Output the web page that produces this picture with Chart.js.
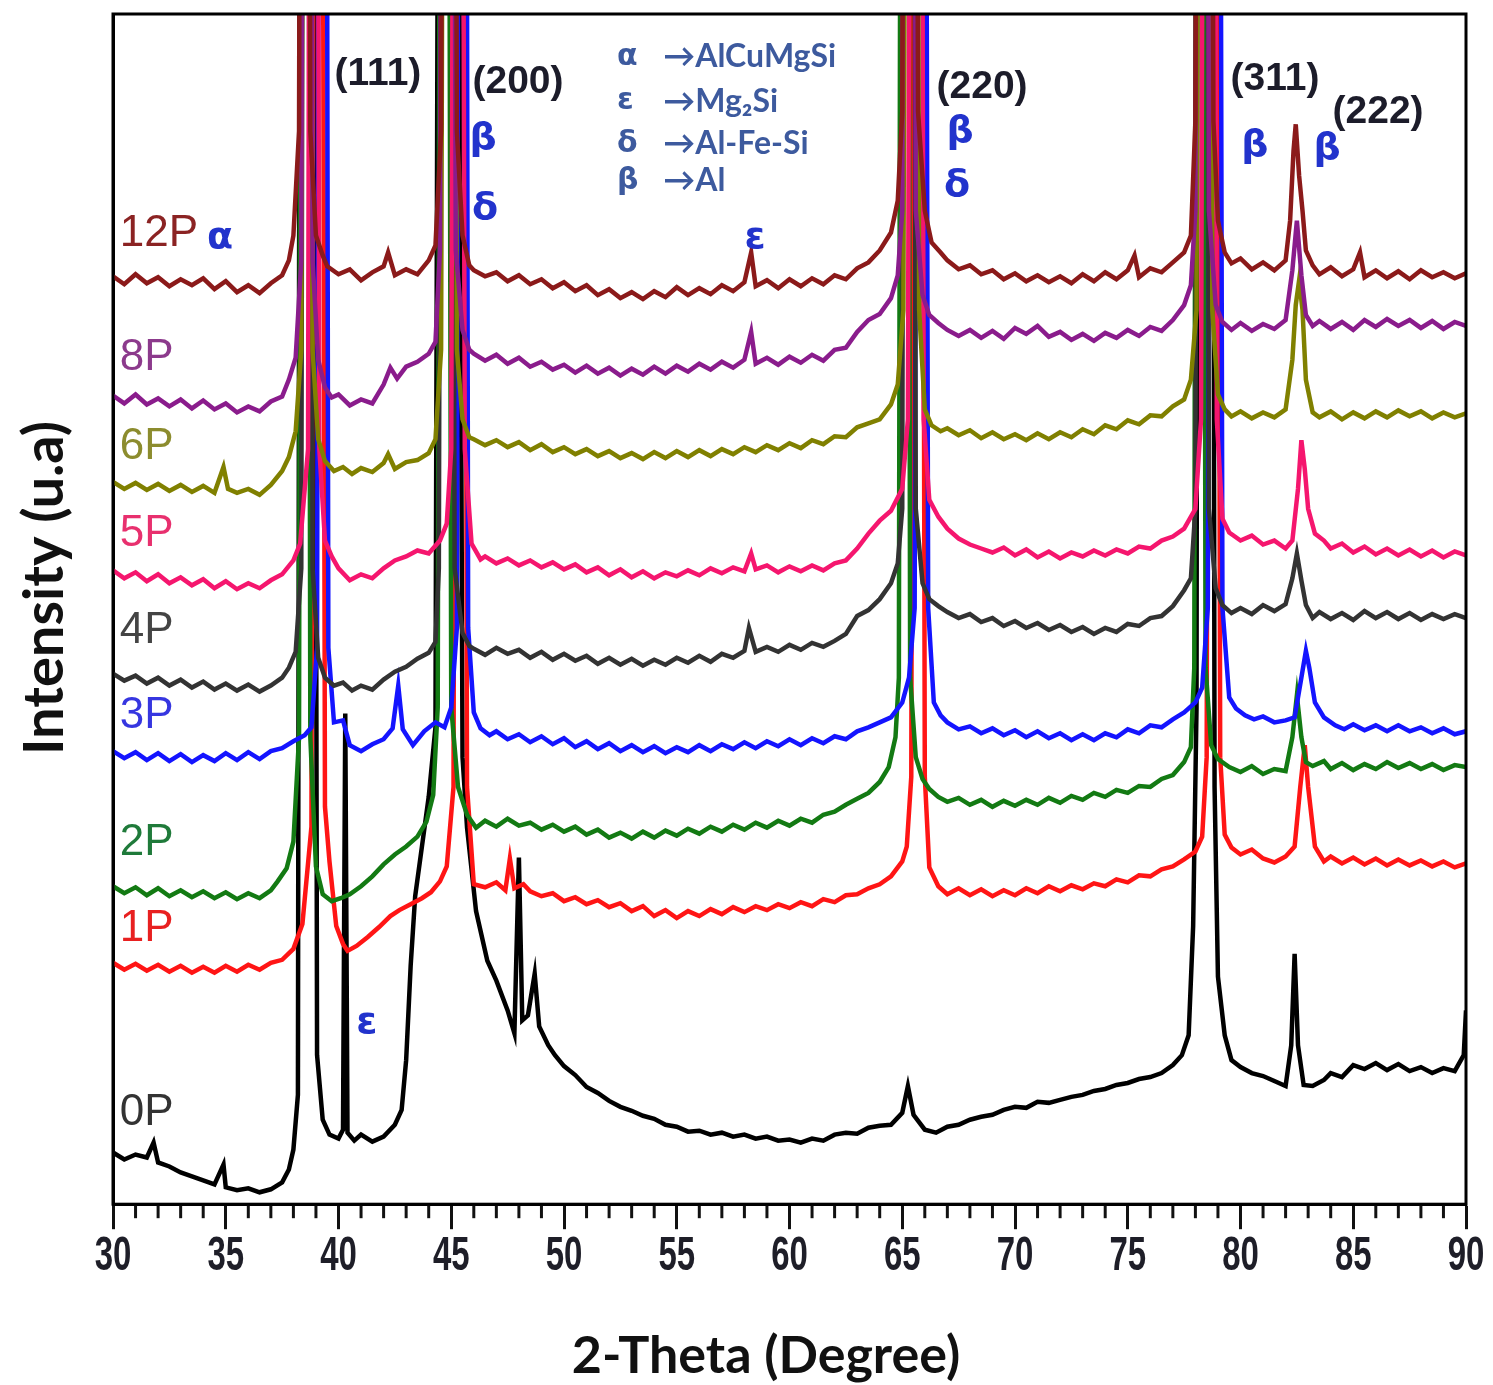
<!DOCTYPE html>
<html lang="en">
  <head>
    <meta charset="UTF-8" />
    <title>XRD patterns</title>
    <script src="https://cdn.jsdelivr.net/npm/chart.js@4.4.1/dist/chart.umd.min.js"></script>
    <style>
      html, body { margin: 0; padding: 0; background: #fff; }
      #wrap { width: 1493px; height: 1385px; }
    </style>
  </head>
  <body>
    <div id="wrap"><canvas id="xrd" width="1493" height="1385"></canvas></div>

    <script>
      // 2-theta (deg), intensity (arbitrary, already offset per pass count)
      const s12P = [[30,934],[30.5,926],[31,936],[31.5,927],[32,933],[32.5,924],[33,931],[33.5,925],[34,932],[34.5,921],[35,929],[35.5,918],[36,925],[36.5,917],[37,927],[37.5,935],[37.8,950],[38,975],
        [38.25,1080],[38.4,2500],[38.6,2500],[38.75,1080],[39,975],[39.3,955],[39.5,944],[40,936],[40.5,941],[41,930],[41.5,938],[42,944],[42.2,958],[42.5,935],[43,941],[43.5,936],[44,950],[44.3,965],
        [44.55,1080],[44.75,2500],[45.05,2500],[45.25,1080],[45.5,975],[45.8,945],[46,940],[46.5,934],[47,938],[47.5,929],[48,935],[48.5,926],[49,931],[49.5,922],[50,928],[50.5,919],[51,925],[51.5,915],
        [52,921],[52.5,912],[53,918],[53.5,911],[54,919],[54.5,913],[55,923],[55.5,915],[56,922],[56.5,916],[57,925],[57.5,919],[58,928],[58.3,958],[58.5,924],[59,930],[59.5,922],[60,931],[60.5,924],
        [61,932],[61.5,926],[62,935],[62.5,931],[63,942],[63.5,948],[64,960],[64.5,978],[64.8,1010],[65,1100],[65.2,2500],[65.5,2500],[65.7,1100],[66,1000],[66.3,968],[66.7,958],[67,950],[67.5,941],
        [68,945],[68.5,936],[69,940],[69.5,931],[70,937],[70.5,929],[71,935],[71.5,928],[72,934],[72.5,927],[73,936],[73.5,929],[74,938],[74.5,931],[75,940],[75.3,955],[75.5,933],[76,942],[76.5,938],
        [77,948],[77.5,958],[77.8,975],[78,1090],[78.2,2500],[78.6,2500],[78.8,1090],[79,990],[79.3,958],[79.6,947],[80,952],[80.5,941],[81,948],[81.5,940],[82,950],[82.2,990],[82.35,1060],[82.45,1087],
        [82.6,1035],[82.75,1000],[82.9,960],[83.2,945],[83.5,936],[84,943],[84.5,934],[85,941],[85.3,958],[85.5,933],[86,940],[86.5,932],[87,939],[87.5,931],[88,940],[88.5,933],[89,938],[89.5,932],[90,937]];

      const s8P = [[30,814],[30.5,806],[31,815],[31.5,805],[32,811],[32.5,803],[33,810],[33.5,801],[34,809],[34.5,800],[35,806],[35.5,797],[36,803],[36.5,798],[37,808],[37.5,813],[37.8,830],[38.1,852],
        [38.35,950],[38.5,2500],[38.7,2500],[38.85,950],[39.1,850],[39.4,822],[39.7,812],[40,815],[40.5,804],[41,810],[41.5,806],[42,825],[42.3,842],[42.6,831],[43,843],[43.5,848],[44,856],[44.3,868],
        [44.5,960],[44.7,2500],[45,2500],[45.2,960],[45.5,880],[45.8,860],[46,856],[46.5,849],[47,855],[47.5,846],[48,852],[48.5,843],[49,848],[49.5,840],[50,845],[50.5,837],[51,844],[51.5,836],
        [52,842],[52.5,834],[53,841],[53.5,835],[54,843],[54.5,836],[55,844],[55.5,838],[56,846],[56.5,840],[57,848],[57.5,842],[58,850],[58.3,878],[58.5,846],[59,852],[59.5,845],[60,853],[60.5,847],
        [61,855],[61.5,849],[62,860],[62.5,862],[63,878],[63.5,890],[64,896],[64.5,912],[64.8,935],[65,1000],[65.15,2500],[65.45,2500],[65.6,1000],[65.9,915],[66.2,895],[66.6,887],[67,880],[67.5,874],
        [68,880],[68.5,872],[69,879],[69.5,871],[70,882],[70.5,876],[71,884],[71.5,873],[72,878],[72.5,870],[73,876],[73.5,869],[74,877],[74.5,872],[75,880],[75.5,874],[76,883],[76.5,879],[77,890],
        [77.5,905],[77.8,925],[78,1000],[78.15,2500],[78.45,2500],[78.6,1000],[78.9,905],[79.2,888],[79.6,880],[80,887],[80.5,879],[81,886],[81.5,881],[82,890],[82.3,940],[82.5,990],[82.7,935],
        [82.9,895],[83.2,884],[83.5,889],[84,881],[84.5,888],[85,880],[85.5,890],[86,883],[86.5,891],[87,884],[87.5,890],[88,882],[88.5,889],[89,881],[89.5,888],[90,884]];

      const s6P = [[30,727],[30.5,720],[31,726],[31.5,719],[32,725],[32.5,718],[33,724],[33.5,717],[34,723],[34.5,716],[34.9,742],[35.1,720],[35.5,716],[36,720],[36.5,714],[37,724],[37.5,738],[37.8,752],[38.1,778],
        [38.35,860],[38.5,2500],[38.7,2500],[38.85,860],[39.1,770],[39.4,748],[39.8,738],[40.2,742],[40.6,735],[41,741],[41.5,737],[42,746],[42.2,755],[42.5,740],[43,747],[43.5,749],[44,756],[44.3,770],
        [44.55,860],[44.75,2500],[45.05,2500],[45.25,860],[45.5,790],[45.8,772],[46,770],[46.5,764],[47,769],[47.5,762],[48,767],[48.5,759],[49,765],[49.5,757],[50,762],[50.5,755],[51,760],[51.5,753],
        [52,758],[52.5,751],[53,756],[53.5,750],[54,757],[54.5,751],[55,758],[55.5,752],[56,759],[56.5,753],[57,760],[57.5,755],[58,762],[58.5,757],[59,764],[59.5,759],[60,766],[60.5,761],[61,769],
        [61.5,765],[62,773],[62.5,772],[63,782],[63.5,786],[64,790],[64.5,805],[64.8,825],[65.05,900],[65.25,2500],[65.55,2500],[65.75,900],[66,800],[66.3,784],[66.7,778],[67,781],[67.5,774],[68,779],
        [68.5,771],[69,777],[69.5,770],[70,775],[70.5,769],[71,776],[71.5,770],[72,777],[72.5,772],[73,780],[73.5,775],[74,784],[74.5,780],[75,789],[75.5,785],[76,794],[76.5,793],[77,803],[77.5,810],
        [77.8,830],[78.05,900],[78.25,2500],[78.55,2500],[78.75,900],[79,815],[79.3,800],[79.6,793],[80,798],[80.5,791],[81,797],[81.5,792],[82,800],[82.3,850],[82.45,905],[82.6,930],[82.75,900],
        [82.9,830],[83.2,797],[83.5,792],[84,798],[84.5,790],[85,797],[85.5,791],[86,798],[86.5,792],[87,799],[87.5,793],[88,798],[88.5,791],[89,797],[89.5,792],[90,796]];

      const s5P = [[30,638],[30.5,630],[31,636],[31.5,627],[32,634],[32.5,625],[33,631],[33.5,623],[34,629],[34.5,620],[35,627],[35.5,619],[36,625],[36.5,620],[37,628],[37.5,634],[38,648],[38.3,665],
        [38.65,760],[38.8,2500],[39,2500],[39.15,760],[39.4,668],[39.7,652],[40,640],[40.5,628],[41,634],[41.5,630],[42,640],[42.5,648],[43,652],[43.5,658],[44,655],[44.5,668],[44.8,685],
        [45,760],[45.2,2500],[45.4,2500],[45.6,760],[45.9,665],[46.3,649],[46.5,652],[47,645],[47.5,650],[48,643],[48.5,648],[49,641],[49.5,646],[50,639],[50.5,644],[51,636],[51.5,641],[52,633],
        [52.5,639],[53,631],[53.5,637],[54,630],[54.5,636],[55,632],[55.5,638],[56,633],[56.5,640],[57,635],[57.5,641],[58,637],[58.3,655],[58.5,639],[59,643],[59.5,636],[60,642],[60.5,637],[61,643],
        [61.5,638],[62,645],[62.5,648],[63,660],[63.5,675],[64,688],[64.5,698],[65,720],[65.25,790],[65.45,2500],[65.75,2500],[65.95,790],[66.2,709],[66.6,692],[67,680],[67.5,670],[68,664],[68.5,660],
        [69,656],[69.5,661],[70,653],[70.5,659],[71,651],[71.5,657],[72,650],[72.5,656],[73,652],[73.5,658],[74,653],[74.5,659],[75,655],[75.5,662],[76,660],[76.5,668],[77,672],[77.5,680],[78,700],
        [78.25,790],[78.45,2500],[78.75,2500],[78.95,790],[79.2,690],[79.5,676],[80,668],[80.5,673],[81,664],[81.5,668],[82,660],[82.3,668],[82.55,720],[82.7,769],[82.85,740],[83,700],[83.3,675],
        [83.7,668],[84,660],[84.5,665],[85,656],[85.5,662],[86,654],[86.5,660],[87,653],[87.5,659],[88,652],[88.5,658],[89,651],[89.5,657],[90,653]];

      const s4P = [[30,534],[30.5,527],[31,532],[31.5,524],[32,530],[32.5,522],[33,528],[33.5,520],[34,526],[34.5,518],[35,524],[35.5,517],[36,523],[36.5,516],[37,522],[37.5,530],[37.8,540],[38.1,556],
        [38.35,640],[38.5,2500],[38.7,2500],[38.85,640],[39.1,550],[39.4,530],[39.8,522],[40.2,525],[40.6,517],[41,522],[41.5,518],[42,528],[42.5,536],[43,541],[43.5,549],[44,555],[44.3,566],
        [44.45,640],[44.65,2500],[44.95,2500],[45.15,640],[45.5,575],[45.8,562],[46,559],[46.5,553],[47,560],[47.5,554],[48,558],[48.5,550],[49,556],[49.5,548],[50,554],[50.5,547],[51,552],[51.5,544],
        [52,550],[52.5,543],[53,549],[53.5,542],[54,548],[54.5,543],[55,550],[55.5,545],[56,552],[56.5,546],[57,554],[57.5,550],[58,557],[58.2,580],[58.5,556],[59,561],[59.5,556],[60,563],[60.5,558],
        [61,565],[61.5,561],[62,567],[62.5,574],[63,592],[63.5,598],[64,609],[64.5,625],[64.8,645],[65,700],[65.15,2500],[65.45,2500],[65.6,700],[65.9,625],[66.2,609],[66.6,602],[67,596],[67.5,590],
        [68,594],[68.5,586],[69,590],[69.5,582],[70,587],[70.5,580],[71,585],[71.5,578],[72,583],[72.5,576],[73,581],[73.5,574],[74,580],[74.5,576],[75,584],[75.5,582],[76,590],[76.5,592],[77,602],
        [77.5,618],[77.8,630],[78,700],[78.15,2500],[78.45,2500],[78.6,700],[78.9,620],[79.2,603],[79.6,595],[80,600],[80.5,594],[81,603],[81.5,597],[82,604],[82.3,630],[82.5,655],[82.7,628],[82.9,603],
        [83.2,590],[83.5,596],[84,589],[84.5,595],[85,588],[85.5,597],[86,590],[86.5,596],[87,589],[87.5,595],[88,588],[88.5,594],[89,589],[89.5,594],[90,590]];

      const s3P = [[30,456],[30.5,449],[31,455],[31.5,447],[32,454],[32.5,446],[33,453],[33.5,445],[34,452],[34.5,446],[35,454],[35.5,447],[36,455],[36.5,448],[37,456],[37.5,459],[38,466],[38.5,472],[38.8,480],
        [39.05,560],[39.2,2500],[39.4,2500],[39.55,560],[39.8,485],[40.2,487],[40.5,462],[41,456],[41.5,463],[42,468],[42.4,479],[42.65,522],[42.85,478],[43.3,462],[43.8,476],[44.3,485],[44.7,480],[45,500],
        [45.25,580],[45.4,2500],[45.6,2500],[45.75,580],[46,495],[46.3,479],[46.7,472],[47,476],[47.5,468],[48,473],[48.5,465],[49,471],[49.5,463],[50,469],[50.5,460],[51,466],[51.5,458],[52,464],
        [52.5,456],[53,462],[53.5,455],[54,461],[54.5,454],[55,460],[55.5,455],[56,462],[56.5,456],[57,463],[57.5,458],[58,465],[58.5,459],[59,466],[59.5,461],[60,468],[60.5,462],[61,469],[61.5,464],
        [62,471],[62.5,468],[63,476],[63.5,480],[64,485],[64.5,490],[65,505],[65.3,530],[65.55,600],[65.75,2500],[65.95,2500],[66.15,600],[66.4,505],[66.7,492],[67,485],[67.5,478],[68,481],[68.5,474],
        [69,479],[69.5,472],[70,477],[70.5,470],[71,476],[71.5,469],[72,474],[72.5,467],[73,473],[73.5,467],[74,474],[74.5,470],[75,478],[75.5,474],[76,482],[76.5,480],[77,488],[77.5,495],[78,505],
        [78.3,520],[78.55,600],[78.75,2500],[79,2500],[79.2,600],[79.5,510],[79.8,499],[80.2,492],[80.6,488],[81,491],[81.5,485],[82,487],[82.4,490],[82.7,530],[82.9,557],[83.05,540],[83.3,505],
        [83.7,490],[84.2,482],[84.6,478],[85,483],[85.5,477],[86,482],[86.5,476],[87,482],[87.5,476],[88,480],[88.5,474],[89,479],[89.5,473],[90,476]];

      const s2P = [[30,320],[30.5,313],[31,319],[31.5,311],[32,318],[32.5,310],[33,316],[33.5,309],[34,315],[34.5,308],[35,314],[35.5,307],[36,313],[36.5,308],[37,316],[37.3,325],[37.7,338],[38,365],
        [38.25,470],[38.4,2500],[38.6,2500],[38.75,470],[39,340],[39.3,312],[39.7,305],[40.1,308],[40.5,312],[41,320],[41.5,330],[42,342],[42.5,352],[43,360],[43.5,370],[43.9,385],[44.2,412],
        [44.4,500],[44.6,2500],[44.8,2500],[45,500],[45.3,420],[45.7,392],[46.1,379],[46.5,386],[47,380],[47.5,388],[48,381],[48.5,384],[49,377],[49.5,382],[50,375],[50.5,380],[51,372],[51.5,377],
        [52,369],[52.5,374],[53,368],[53.5,375],[54,369],[54.5,376],[55,371],[55.5,378],[56,373],[56.5,380],[57,375],[57.5,382],[58,377],[58.5,384],[59,379],[59.5,386],[60,381],[60.5,388],[61,384],
        [61.5,392],[62,395],[62.5,402],[63,408],[63.5,414],[64,425],[64.4,440],[64.7,470],[64.85,530],[65,2500],[65.2,2500],[65.35,530],[65.6,450],[65.9,428],[66.2,418],[66.6,410],[67,405],[67.5,409],
        [68,402],[68.5,407],[69,400],[69.5,406],[70,401],[70.5,407],[71,402],[71.5,409],[72,404],[72.5,411],[73,407],[73.5,414],[74,410],[74.5,417],[75,414],[75.5,421],[76,420],[76.5,428],[77,432],
        [77.5,445],[77.8,460],[77.95,540],[78.1,2500],[78.3,2500],[78.45,540],[78.7,462],[79,448],[79.5,440],[80,435],[80.5,441],[81,433],[81.5,438],[82,436],[82.3,470],[82.5,512],[82.7,470],
        [82.9,445],[83.2,441],[83.7,446],[84,438],[84.5,444],[85,437],[85.5,443],[86,438],[86.5,445],[87,439],[87.5,444],[88,438],[88.5,443],[89,437],[89.5,442],[90,440]];

      const s1P = [[30,243],[30.5,236],[31,242],[31.5,235],[32,241],[32.5,234],[33,240],[33.5,233],[34,239],[34.5,233],[35,240],[35.5,234],[36,241],[36.5,236],[37,243],[37.5,246],[38,257],[38.4,282],
        [38.8,380],[39,2500],[39.2,2500],[39.4,400],[39.6,345],[39.9,280],[40.2,262],[40.4,255],[40.8,260],[41.3,269],[41.8,279],[42.3,290],[42.7,296],[43.2,302],[43.7,308],[44.1,314],[44.5,325],[44.8,340],
        [45.1,420],[45.3,2500],[45.5,2500],[45.7,420],[46,322],[46.5,319],[47,324],[47.4,316],[47.6,348],[47.8,318],[48.2,322],[48.5,315],[49,310],[49.5,313],[50,305],[50.5,309],[51,302],[51.5,306],
        [52,299],[52.5,303],[53,295],[53.5,300],[54,290],[54.5,296],[55,288],[55.5,295],[56,290],[56.5,297],[57,292],[57.5,299],[58,294],[58.5,300],[59,296],[59.5,302],[60,298],[60.5,304],[61,300],
        [61.5,307],[62,304],[62.5,311],[63,312],[63.5,318],[64,322],[64.5,330],[65,345],[65.2,360],[65.4,430],[65.6,2500],[65.8,2500],[66,430],[66.2,339],[66.6,320],[67,312],[67.5,318],[68,311],
        [68.5,317],[69,310],[69.5,316],[70,311],[70.5,318],[71,313],[71.5,320],[72,315],[72.5,321],[73,317],[73.5,323],[74,320],[74.5,327],[75,324],[75.5,331],[76,330],[76.5,337],[77,340],[77.5,347],
        [78,355],[78.3,370],[78.5,450],[78.7,2500],[78.9,2500],[79.1,450],[79.3,372],[79.6,359],[80,352],[80.5,357],[81,348],[81.5,344],[82,350],[82.4,360],[82.65,420],[82.85,462],[83,420],[83.3,360],
        [83.7,345],[84,350],[84.5,343],[85,349],[85.5,342],[86,348],[86.5,341],[87,347],[87.5,341],[88,346],[88.5,340],[89,345],[89.5,339],[90,343]];

      const s0P = [[30,52],[30.5,45],[31,50],[31.5,47],[31.8,62],[32,42],[32.5,38],[33,32],[33.5,28],[34,24],[34.5,20],[34.9,40],[35,17],[35.5,14],[36,16],[36.5,12],[37,15],[37.5,22],[37.8,35],[38,55],
        [38.2,110],[38.35,2500],[38.85,2500],[39.05,150],[39.3,85],[39.6,70],[40,66],[40.2,75],[40.3,494],[40.4,72],[40.7,64],[41,70],[41.5,63],[42,68],[42.5,80],[42.8,95],[43,145],[43.2,240],
        [43.4,310],[43.7,360],[44,410],[44.3,480],[44.55,2500],[45.15,2500],[45.5,450],[45.7,379],[46.1,295],[46.6,245],[47,225],[47.5,195],[47.8,172],[48,349],[48.15,185],[48.4,190],[48.7,232],
        [48.9,179],[49.3,160],[49.6,150],[50,139],[50.5,130],[51,118],[51.5,112],[52,104],[52.5,98],[53,94],[53.5,89],[54,86],[54.5,80],[55,78],[55.5,73],[56,74],[56.5,70],[57,72],[57.5,68],[58,70],
        [58.5,66],[59,68],[59.5,64],[60,65],[60.5,62],[61,66],[61.5,64],[62,70],[62.5,72],[63,71],[63.5,77],[64,79],[64.5,80],[65,92],[65.25,119],[65.5,90],[66,75],[66.5,72],[67,78],[67.5,80],
        [68,85],[68.5,88],[69,90],[69.5,95],[70,98],[70.5,97],[71,103],[71.5,102],[72,105],[72.5,108],[73,110],[73.5,114],[74,116],[74.5,120],[75,122],[75.5,126],[76,128],[76.5,132],[77,140],
        [77.4,150],[77.7,170],[77.9,280],[78.05,500],[78.15,2500],[78.7,2500],[78.85,420],[79,229],[79.3,170],[79.6,145],[80,138],[80.5,132],[81,129],[81.5,124],[82,119],[82.25,160],[82.4,252],
        [82.55,160],[82.8,120],[83.2,119],[83.7,125],[84,132],[84.5,128],[85,140],[85.5,136],[86,142],[86.5,135],[87,141],[87.5,134],[88,138],[88.5,132],[89,137],[89.5,134],[89.9,150],[90,195]];

      const seriesNames = ["12P", "8P", "6P", "5P", "4P", "3P", "2P", "1P", "0P"];
      const seriesData = [s12P, s8P, s6P, s5P, s4P, s3P, s2P, s1P, s0P];
      const lineColors = ["#8b1a1a", "#8a1c8c", "#808000", "#f5166e", "#333333", "#1414ff", "#137a13", "#ff1515", "#000000"];
      const labelColors = ["#8b2323", "#8c3a8c", "#8c8c2e", "#e8306e", "#444444", "#3636e0", "#1f7a3a", "#e82020", "#333333"];
      // label anchor for each pattern name: [2-theta, intensity]
      const labelAt = [[30.3, 977], [30.3, 852], [30.3, 762], [30.3, 675], [30.3, 577], [30.3, 492], [30.3, 364], [30.3, 277], [30.3, 92]];

      const planeLabels = ["(111)", "(200)", "(220)", "(311)", "(222)"];
      const planeAt = [[41.75, 1137], [47.96, 1129], [68.54, 1124], [81.53, 1132], [86.1, 1099]];

      const phaseMarks = ["β", "δ", "β", "δ", "β", "β", "α", "ε", "ε"];
      const phaseAt = [[46.41, 1072], [46.5, 1002], [67.56, 1079], [67.43, 1025], [80.64, 1065], [83.84, 1062], [34.75, 972], [58.47, 972], [41.26, 182]];

      const keySymbols = ["α", "ε", "δ", "β"];
      const keyPhases = ["→AlCuMgSi", "→Mg₂Si", "→Al-Fe-Si", "→Al"];
      const keyRows = [1155, 1110, 1067, 1030];

      const xTicks = [30, 35, 40, 45, 50, 55, 60, 65, 70, 75, 80, 85, 90];
      const xTitle = "2-Theta (Degree)";
      const yTitle = "Intensity (u.a)";

      var datasets = seriesData.map(function (s, i) {
        return {
          label: seriesNames[i],
          data: s.map(function (p) { return { x: p[0], y: p[1] }; }),
          borderColor: lineColors[i],
          borderWidth: 4.5,
          pointRadius: 0,
          tension: 0,
          fill: false
        };
      });

      var overlay = {
        id: "overlay",
        afterDraw: function (chart) {
          var ctx = chart.ctx;
          var area = chart.chartArea;
          var x = chart.scales.x;
          var y = chart.scales.y;
          ctx.save();

          // minor ticks every degree
          ctx.strokeStyle = "#111";
          ctx.lineWidth = 3;
          for (var d = 31; d < 90; d++) {
            if (d % 5 === 0) continue;
            var px = x.getPixelForValue(d);
            ctx.beginPath();
            ctx.moveTo(px, area.bottom);
            ctx.lineTo(px, area.bottom + 14);
            ctx.stroke();
          }

          // frame
          ctx.strokeStyle = "#000";
          ctx.lineWidth = 3;
          ctx.strokeRect(area.left, area.top, area.right - area.left, area.bottom - area.top);

          // tick numbers, drawn a bit taller like the original figure
          ctx.textAlign = "center";
          ctx.textBaseline = "middle";
          ctx.fillStyle = "#1e1e28";
          ctx.font = "bold 33px 'Liberation Sans', Arial, sans-serif";
          xTicks.forEach(function (v) {
            ctx.save();
            ctx.translate(x.getPixelForValue(v), area.bottom + 53);
            ctx.scale(1, 1.45);
            ctx.fillText(String(v), 0, 0);
            ctx.restore();
          });

          // axis titles
          ctx.fillStyle = "#111";
          ctx.font = "bold 52px Lato, 'Open Sans', sans-serif";
          ctx.fillText(xTitle, 766, 1356);
          ctx.save();
          ctx.translate(45, 588);
          ctx.rotate(-Math.PI / 2);
          ctx.font = "bold 56px Lato, 'Open Sans', sans-serif";
          ctx.fillText(yTitle, 0, 0);
          ctx.restore();

          // pattern names
          ctx.textAlign = "left";
          ctx.font = "44px 'Liberation Sans', Arial, sans-serif";
          seriesNames.forEach(function (n, i) {
            ctx.fillStyle = labelColors[i];
            ctx.fillText(n, x.getPixelForValue(labelAt[i][0]), y.getPixelForValue(labelAt[i][1]));
          });

          // planes
          ctx.textAlign = "center";
          ctx.font = "bold 39px 'Liberation Sans', Arial, sans-serif";
          ctx.fillStyle = "#1c1c2a";
          planeLabels.forEach(function (t, i) {
            ctx.fillText(t, x.getPixelForValue(planeAt[i][0]), y.getPixelForValue(planeAt[i][1]));
          });

          // phase marks
          ctx.font = "bold 38px 'DejaVu Sans', sans-serif";
          ctx.fillStyle = "#2233cc";
          phaseMarks.forEach(function (t, i) {
            ctx.fillText(t, x.getPixelForValue(phaseAt[i][0]), y.getPixelForValue(phaseAt[i][1]));
          });

          // phase key
          ctx.textAlign = "left";
          ctx.fillStyle = "#3d5a9e";
          keySymbols.forEach(function (s, i) {
            var py = y.getPixelForValue(keyRows[i]);
            ctx.font = "bold 30px 'DejaVu Sans', sans-serif";
            ctx.fillText(s, x.getPixelForValue(52.35), py);
            ctx.font = "bold 32px Lato, 'Open Sans', sans-serif";
            ctx.fillText(keyPhases[i], x.getPixelForValue(54.4), py);
          });

          ctx.restore();
        }
      };

      new Chart(document.getElementById("xrd"), {
        type: "line",
        data: { datasets: datasets },
        options: {
          responsive: false,
          animation: false,
          devicePixelRatio: 1,
          layout: { autoPadding: false, padding: { top: 14, right: 27, bottom: 99, left: 113 } },
          plugins: { legend: { display: false }, tooltip: { enabled: false } },
          scales: {
            x: {
              type: "linear",
              min: 30,
              max: 90,
              afterBuildTicks: function (axis) {
                axis.ticks = xTicks.map(function (v) { return { value: v }; });
              },
              ticks: {
                color: "rgba(0,0,0,0)",
                padding: 8,
                font: { family: "'Liberation Sans', Arial, sans-serif", size: 34, weight: "bold" }
              },
              grid: { drawOnChartArea: false, tickLength: 25, tickWidth: 3, tickColor: "#111" },
              border: { display: true, width: 3, color: "#000" },
              title: { display: false }
            },
            y: {
              type: "linear",
              min: 0,
              max: 1198,
              ticks: { display: false },
              grid: { display: false, drawTicks: false },
              border: { display: true, width: 3, color: "#000" },
              title: { display: false }
            }
          }
        },
        plugins: [overlay]
      });
    </script>
  </body>
</html>
